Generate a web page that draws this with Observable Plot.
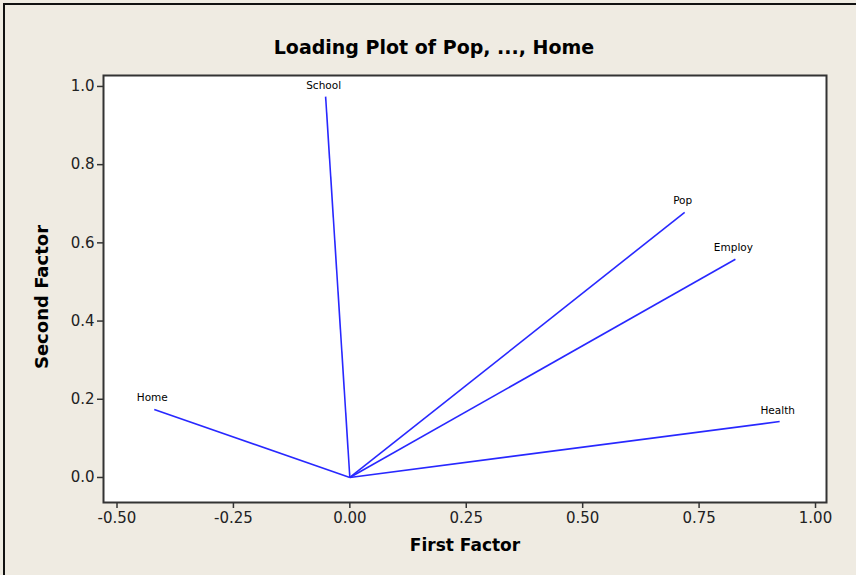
<!DOCTYPE html>
<html>
<head>
<meta charset="utf-8">
<script src="https://cdn.jsdelivr.net/npm/d3@7"></script>
<script src="https://cdn.jsdelivr.net/npm/@observablehq/plot@0.6"></script>
<style>
  html, body { margin: 0; padding: 0; }
  body { width: 856px; height: 575px; background: #EFEBE2; position: relative; overflow: hidden; }
  #frame { position: absolute; left: 3px; top: 3px; width: 860px; height: 580px; border-left: 2px solid #111; border-top: 2px solid #111; box-sizing: border-box; }
  #chart { position: absolute; left: 0; top: 0; }
  svg { overflow: visible; }
</style>
</head>
<body>
<div id="frame"></div>
<div id="chart"></div>
<script>
const variables = ["Pop", "School", "Employ", "Health", "Home"];
const firstFactor = [0.719, -0.052, 0.828, 0.923, -0.420];
const secondFactor = [0.678, 0.974, 0.558, 0.143, 0.174];
const xTicks = [-0.5, -0.25, 0, 0.25, 0.5, 0.75, 1.0];
const yTicks = [0, 0.2, 0.4, 0.6, 0.8, 1.0];
const title = "Loading Plot of Pop, ..., Home";
const xLabel = "First Factor";
const yLabel = "Second Factor";

const data = variables.map((v, i) => ({name: v, x: firstFactor[i], y: secondFactor[i]}));
const font = "'DejaVu Sans', sans-serif";

const plot = Plot.plot({
  width: 856,
  height: 575,
  marginLeft: 103,
  marginRight: 30,
  marginTop: 75,
  marginBottom: 73,
  style: {background: "transparent", fontFamily: font, color: "#111"},
  x: {domain: [-0.529, 1.0236]},
  y: {domain: [-0.064, 1.028]},
  marks: [
    Plot.frame({fill: "white"}),
    Plot.link(data, {x1: 0, y1: 0, x2: "x", y2: "y", stroke: "#2828FF", strokeWidth: 1.6}),
    Plot.text(data, {x: "x", y: "y", text: "name", dx: -2, dy: -8, lineAnchor: "bottom", fontSize: 10.5, fill: "#000"}),
    Plot.frame({stroke: "#333", strokeWidth: 2}),
    Plot.axisX({ticks: xTicks, tickFormat: d => d.toFixed(2), tickSize: 6, tickPadding: 4, fontSize: 15, label: null, stroke: "#333", strokeWidth: 1.5, fill: "#222"}),
    Plot.axisY({ticks: yTicks, tickFormat: d => d.toFixed(1), tickSize: 6, tickPadding: 3, fontSize: 15, label: null, stroke: "#333", strokeWidth: 1.5, fill: "#222"}),
    Plot.text([xLabel], {frameAnchor: "bottom", textAnchor: "middle", dy: 48, fontSize: 17, fontWeight: "bold", fill: "#000"}),
    Plot.text([yLabel], {frameAnchor: "left", textAnchor: "middle", dx: -61, dy: 8, rotate: -90, fontSize: 18, fontWeight: "bold", fill: "#000"}),
    Plot.text([title], {frameAnchor: "top", textAnchor: "middle", dx: -31, dy: -35, fontSize: 19, fontWeight: "bold", fill: "#000"})
  ]
});
document.getElementById("chart").appendChild(plot);
</script>
</body>
</html>
